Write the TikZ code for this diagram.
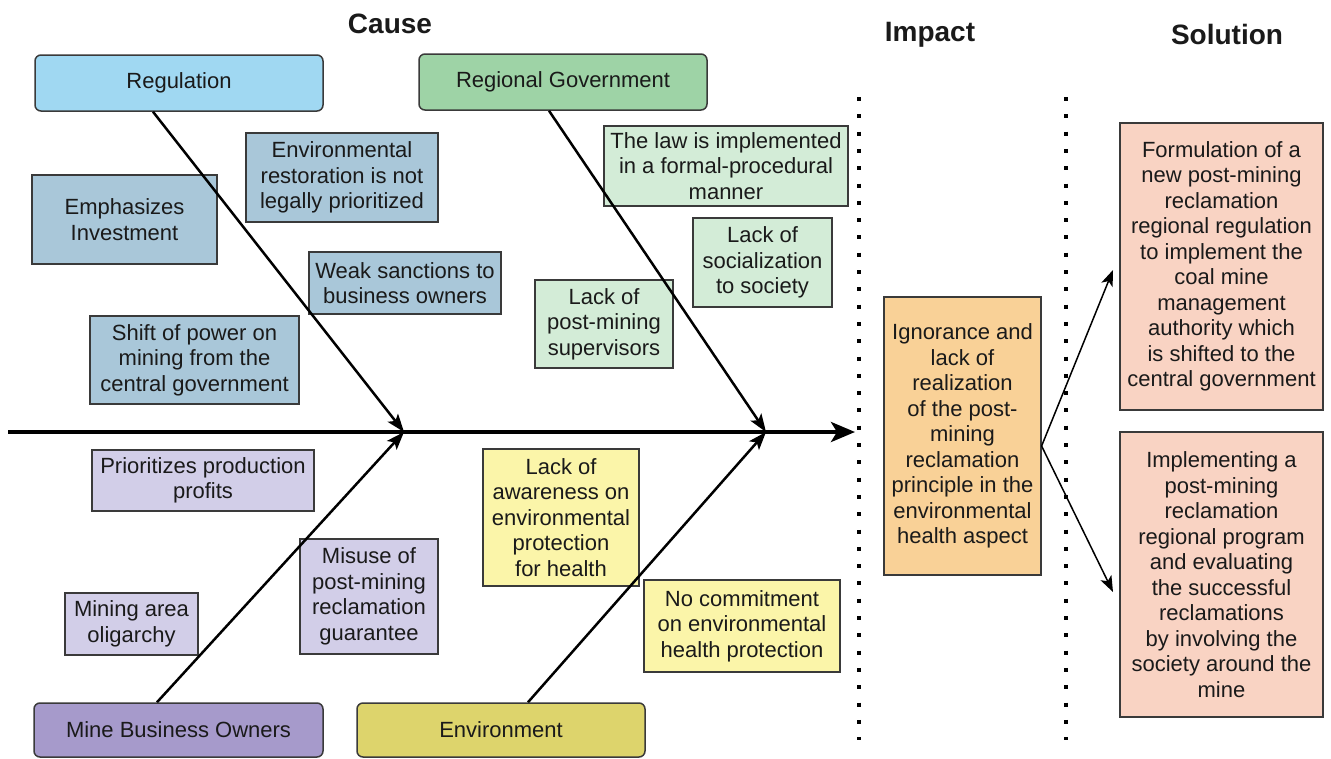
\documentclass[tikz,border=0pt]{standalone}
\usepackage{fontspec}
\setmainfont{Liberation Sans}
\usetikzlibrary{arrows.meta,calc}
\definecolor{bordc}{HTML}{3A3A3A}
\definecolor{txtc}{HTML}{1A1A1A}
\definecolor{headReg}{HTML}{A0D8F2}
\definecolor{headRG}{HTML}{9ED3A6}
\definecolor{headMBO}{HTML}{A69ACB}
\definecolor{headEnv}{HTML}{DDD46C}
\definecolor{subBlue}{HTML}{A9C7D9}
\definecolor{subGreen}{HTML}{D3ECD7}
\definecolor{subPurple}{HTML}{D2CEE8}
\definecolor{subYellow}{HTML}{FBF5A9}
\definecolor{impc}{HTML}{F9D197}
\definecolor{solc}{HTML}{F9D3C3}
\begin{document}
\begin{tikzpicture}[x=1pt,y=-1pt,
  txt/.style={font=\fontsize{22}{25.5}\selectfont, text=txtc, align=center, inner sep=0pt},
  headbox/.style={txt, draw=bordc, line width=1.5pt, rounded corners=6pt},
  subbox/.style={txt, draw=bordc, line width=1.2pt},
  ttl/.style={font=\fontsize{28}{32}\selectfont\bfseries, text=txtc, inner sep=0pt, anchor=base},
  bone/.style={line width=2.5pt, -{Stealth[length=18pt,width=13pt,inset=4pt]}},
  spine/.style={line width=4pt, -{Stealth[length=24pt,width=20pt,inset=6pt]}},
  thinarrow/.style={line width=1.5pt, -{Stealth[length=16pt,width=12pt,inset=4pt]}},
  sep/.style={line width=4pt, dash pattern=on 4pt off 13.3pt}
]
\useasboundingbox (0,0) rectangle (1331,758);
\fill[white] (0,0) rectangle (1331,758);

% titles
\node[ttl] (tcause) at (390,33) {Cause};
\node[ttl] (timpact) at (930,41) {Impact};
\node[ttl] (tsol) at (1227,44) {Solution};

% head boxes
\node[headbox, fill=headReg, minimum width=288pt, minimum height=56pt] (reg) at (179,83) {Regulation};
\node[headbox, fill=headRG, minimum width=288pt, minimum height=56pt] (rg) at (563,82) {Regional Government};
\node[headbox, fill=headMBO, minimum width=289pt, minimum height=54pt] (mbo) at (178.5,730) {Mine Business Owners};
\node[headbox, fill=headEnv, minimum width=288pt, minimum height=54pt] (env) at (501,730) {Environment};

% regulation causes
\node[subbox, fill=subBlue, minimum width=192pt, minimum height=89pt] (envr) at (342,177.5) {Environmental\\restoration is not\\legally prioritized};
\node[subbox, fill=subBlue, minimum width=185pt, minimum height=89pt] (emph) at (124.5,219.5) {Emphasizes\\Investment};
\node[subbox, fill=subBlue, minimum width=192pt, minimum height=62pt] (weak) at (405,283) {Weak sanctions to\\business owners};
\node[subbox, fill=subBlue, minimum width=209pt, minimum height=88pt] (shift) at (194.5,360) {Shift of power on\\mining from the\\central government};

% regional government causes
\node[subbox, fill=subGreen, minimum width=244pt, minimum height=80pt] (law) at (726,166) {The law is implemented\\in a formal-procedural\\manner};
\node[subbox, fill=subGreen, minimum width=139pt, minimum height=89pt] (soc) at (762.5,262.5) {Lack of\\socialization\\to society};
\node[subbox, fill=subGreen, minimum width=138pt, minimum height=88pt] (sup) at (604,324) {Lack of\\post-mining\\supervisors};

% mine business owners causes
\node[subbox, fill=subPurple, minimum width=222pt, minimum height=61pt] (prio) at (203,480.5) {Prioritizes production\\profits};
\node[subbox, fill=subPurple, minimum width=138pt, minimum height=115pt] (misuse) at (369,596.5) {Misuse of\\post-mining\\reclamation\\guarantee};
\node[subbox, fill=subPurple, minimum width=133pt, minimum height=62pt] (olig) at (131.5,624) {Mining area\\oligarchy};

% environment causes
\node[subbox, fill=subYellow, minimum width=156pt, minimum height=137pt] (aware) at (561,517.5) {Lack of\\awareness on\\environmental\\protection\\for health};
\node[subbox, fill=subYellow, minimum width=196pt, minimum height=92pt] (nocom) at (742,626) {No commitment\\on environmental\\health protection};

% impact and solutions
\node[subbox, fill=impc, minimum width=157pt, minimum height=278pt] (imp) at (962.5,436) {Ignorance and\\lack of\\realization\\of the post-\\mining\\reclamation\\principle in the\\environmental\\health aspect};
\node[subbox, fill=solc, minimum width=203pt, minimum height=287pt] (sol1) at (1221.5,266.5) {Formulation of a\\new post-mining\\reclamation\\regional regulation\\to implement the\\coal mine\\management\\authority which\\is shifted to the\\central government};
\node[subbox, fill=solc, minimum width=203pt, minimum height=285pt] (sol2) at (1221.5,574.5) {Implementing a\\post-mining\\reclamation\\regional program\\and evaluating\\the successful\\reclamations\\by involving the\\society around the\\mine};

% spine and junctions
\coordinate (sp0) at (8,432);
\coordinate (sp1) at (855,432);
\coordinate (j1) at (404,432);
\coordinate (j2) at (766,432);
\draw[spine] (sp0) -- (sp1);

% bones
\draw[bone] ([xshift=-26pt]reg.south) -- (j1);
\draw[bone] ([xshift=-21.5pt]mbo.north) -- (j1);
\draw[bone] ([xshift=-14pt]rg.south) -- (j2);
\draw[bone] ([xshift=27pt]env.north) -- (j2);

% separators
\coordinate (d1a) at (859,97);
\coordinate (d1b) at (859,740);
\coordinate (d2a) at (1066,97);
\coordinate (d2b) at (1066,740);
\draw[sep] (d1a) -- (d1b);
\draw[sep] (d2a) -- (d2b);

% impact arrows
\coordinate (a1) at (1113,270);
\coordinate (a2) at (1113,592);
\draw[thinarrow] ([yshift=-10pt]imp.east) -- (a1);
\draw[thinarrow] ([yshift=-10pt]imp.east) -- (a2);
\end{tikzpicture}
\end{document}
